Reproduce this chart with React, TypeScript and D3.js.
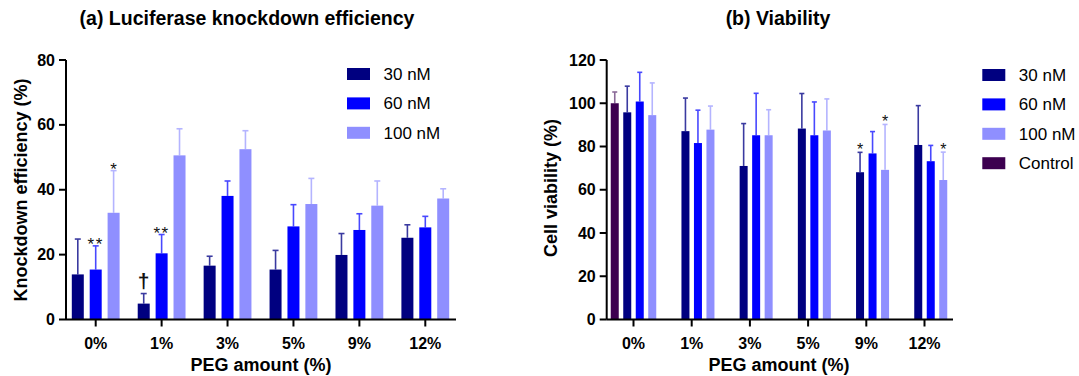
import React from "react";
import * as d3 from "d3";

const categories = ["0%", "1%", "3%", "5%", "9%", "12%"];
const seriesNames = ["30 nM", "60 nM", "100 nM"];
const colors = ["#000080", "#0000ff", "#8f8fff"];
const errColors = ["#3a3aa0", "#4848ff", "#b4b4ff"];
const controlColor = "#3d0050";
const controlErrColor = "#8a6a98";

// (a) knockdown efficiency, mean and upper SD
const knockMean = [
  [13.9, 4.9, 16.6, 15.4, 19.9, 25.2],
  [15.4, 20.4, 38.1, 28.7, 27.6, 28.4],
  [32.9, 50.6, 52.5, 35.6, 35.1, 37.3],
];
const knockSd = [
  [10.9, 3.1, 2.9, 5.9, 6.6, 4.0],
  [7.3, 5.8, 4.6, 6.7, 5.0, 3.4],
  [13.0, 8.2, 5.7, 7.9, 7.6, 3.0],
];
const knockTicks = [0, 20, 40, 60, 80];
const knockMarks = [
  { cat: "0%", s: 1, text: "**" },
  { cat: "0%", s: 2, text: "*" },
  { cat: "1%", s: 0, text: "†" },
  { cat: "1%", s: 1, text: "**" },
];

// (b) viability
const controlMean = 100;
const controlSd = 5.2;
const viaMean = [
  [95.8, 87.1, 71.0, 88.3, 68.1, 80.7],
  [100.8, 81.6, 85.2, 85.2, 76.8, 73.2],
  [94.5, 87.8, 85.2, 87.4, 69.2, 64.5],
];
const viaSd = [
  [12.1, 15.3, 19.6, 16.2, 9.2, 18.2],
  [13.5, 15.2, 19.4, 15.4, 10.1, 7.3],
  [14.9, 10.9, 11.8, 14.6, 21.0, 12.9],
];
const viaTicks = [0, 20, 40, 60, 80, 100, 120];
const viaMarks = [
  { cat: "9%", s: 0, text: "*" },
  { cat: "9%", s: 2, text: "*" },
  { cat: "12%", s: 2, text: "*" },
];

const FONT = "Arial, 'Liberation Sans', Helvetica, sans-serif";

function ErrBar({ x, y0, y1, color, cap }: any) {
  return (
    <g stroke={color} strokeWidth={1.6}>
      <line x1={x} x2={x} y1={y0} y2={y1} />
      <line x1={x - cap / 2} x2={x + cap / 2} y1={y1} y2={y1} />
    </g>
  );
}

function YAxis({ x, y, ticks }: any) {
  const [r0, r1] = y.range();
  return (
    <g>
      <line x1={x} x2={x} y1={r0} y2={r1} stroke="#000" strokeWidth={2} />
      {ticks.map((t: number) => (
        <g key={t}>
          <line x1={x - 7} x2={x} y1={y(t)} y2={y(t)} stroke="#000" strokeWidth={2} />
          <text x={x - 11} y={y(t) + 5.5} textAnchor="end" fontSize={16} fontWeight="bold">
            {t}
          </text>
        </g>
      ))}
    </g>
  );
}

function XAxis({ x, y0, x0, x1 }: any) {
  return (
    <g>
      <line x1={x0} x2={x1} y1={y0} y2={y0} stroke="#000" strokeWidth={2} />
      {categories.map((c) => (
        <g key={c}>
          <line x1={x(c)} x2={x(c)} y1={y0} y2={y0 + 7} stroke="#000" strokeWidth={2} />
          <text x={x(c)} y={349} textAnchor="middle" fontSize={16} fontWeight="bold">
            {c}
          </text>
        </g>
      ))}
    </g>
  );
}

function Legend({ x, y, items }: any) {
  return (
    <g>
      {items.map((it: any, i: number) => (
        <g key={it.name} transform={`translate(${x},${y + i * 29.4})`}>
          <rect x={0} y={-6} width={23} height={12} fill={it.color} />
          <text x={36.5} y={6} fontSize={17}>
            {it.name}
          </text>
        </g>
      ))}
    </g>
  );
}

export default function App() {
  // left panel scales
  const xL = d3.scalePoint<string>().domain(categories).range([95.7, 425.3]);
  const subL = d3.scaleBand<number>().domain([0, 1, 2]).range([-23.9, 23.9]).paddingInner(0.33);
  const yL = d3.scaleLinear().domain([0, 80]).range([319.5, 60]);

  // right panel scales
  const xR = d3.scalePoint<string>().domain(categories).range([633.5, 924.5]);
  const subR = d3.scaleBand<number>().domain([-1, 0, 1, 2]).range([-22.75, 22.75]).paddingInner(0.36);
  const yR = d3.scaleLinear().domain([0, 120]).range([319.5, 60]);

  const bwL = subL.bandwidth();
  const bwR = subR.bandwidth();

  return (
    <div style={{ position: "absolute", left: 0, top: 0 }}>
      <svg width={1079} height={376} fontFamily={FONT} style={{ display: "block", background: "#fff" }}>
        {/* ---------- (a) ---------- */}
        <text x={247} y={25} textAnchor="middle" fontSize={19.5} fontWeight="bold">
          (a) Luciferase knockdown efficiency
        </text>
        {knockMean.map((row, s) =>
          row.map((v, i) => {
            const cx = xL(categories[i])! + subL(s)! + bwL / 2;
            return (
              <g key={`kl${s}-${i}`}>
                <ErrBar x={cx} y0={yL(v)} y1={yL(v + knockSd[s][i])} color={errColors[s]} cap={6} />
                <rect x={cx - bwL / 2} y={yL(v)} width={bwL} height={yL(0) - yL(v)} fill={colors[s]} />
              </g>
            );
          })
        )}
        {knockMarks.map((m, k) => {
          const i = categories.indexOf(m.cat);
          const cx = xL(m.cat)! + subL(m.s)! + bwL / 2;
          const top = yL(knockMean[m.s][i] + knockSd[m.s][i]);
          const dagger = m.text === "†";
          return (
            <text
              key={k}
              x={cx}
              y={dagger ? top - 6 : top + 4.5}
              textAnchor="middle"
              fontSize={dagger ? 21 : 17}
              fontWeight={dagger ? "bold" : "normal"}
              letterSpacing={m.text === "**" ? 1.5 : 0}
              fill="#111"
            >
              {m.text}
            </text>
          );
        })}
        <XAxis x={xL} y0={319.5} x0={66} x1={456} />
        <YAxis x={66} y={yL} ticks={knockTicks} />
        <text transform="translate(27,190) rotate(-90)" textAnchor="middle" fontSize={18} fontWeight="bold">
          Knockdown efficiency (%)
        </text>
        <text x={261} y={371} textAnchor="middle" fontSize={18} fontWeight="bold">
          PEG amount (%)
        </text>
        <Legend
          x={347}
          y={74}
          items={seriesNames.map((n, i) => ({ name: n, color: colors[i] }))}
        />

        {/* ---------- (b) ---------- */}
        <text x={778} y={25} textAnchor="middle" fontSize={19.5} fontWeight="bold">
          (b) Viability
        </text>
        {(() => {
          const cx = xR(categories[0])! + subR(-1)! + bwR / 2;
          return (
            <g>
              <ErrBar x={cx} y0={yR(controlMean)} y1={yR(controlMean + controlSd)} color={controlErrColor} cap={5} />
              <rect x={cx - bwR / 2} y={yR(controlMean)} width={bwR} height={yR(0) - yR(controlMean)} fill={controlColor} />
            </g>
          );
        })()}
        {viaMean.map((row, s) =>
          row.map((v, i) => {
            const cx = xR(categories[i])! + subR(s)! + bwR / 2;
            return (
              <g key={`vr${s}-${i}`}>
                <ErrBar x={cx} y0={yR(v)} y1={yR(v + viaSd[s][i])} color={errColors[s]} cap={5} />
                <rect x={cx - bwR / 2} y={yR(v)} width={bwR} height={yR(0) - yR(v)} fill={colors[s]} />
              </g>
            );
          })
        )}
        {viaMarks.map((m, k) => {
          const i = categories.indexOf(m.cat);
          const cx = xR(m.cat)! + subR(m.s)! + bwR / 2;
          const top = yR(viaMean[m.s][i] + viaSd[m.s][i]);
          return (
            <text key={k} x={cx} y={top + 2.5} textAnchor="middle" fontSize={16} fill="#111">
              {m.text}
            </text>
          );
        })}
        <XAxis x={xR} y0={319.5} x0={606.7} x1={953} />
        <YAxis x={606.7} y={yR} ticks={viaTicks} />
        <text transform="translate(557,188) rotate(-90)" textAnchor="middle" fontSize={18} fontWeight="bold">
          Cell viability (%)
        </text>
        <text x={779} y={371} textAnchor="middle" fontSize={18} fontWeight="bold">
          PEG amount (%)
        </text>
        <Legend
          x={982.3}
          y={75}
          items={[
            ...seriesNames.map((n, i) => ({ name: n, color: colors[i] })),
            { name: "Control", color: controlColor },
          ]}
        />
      </svg>
    </div>
  );
}
